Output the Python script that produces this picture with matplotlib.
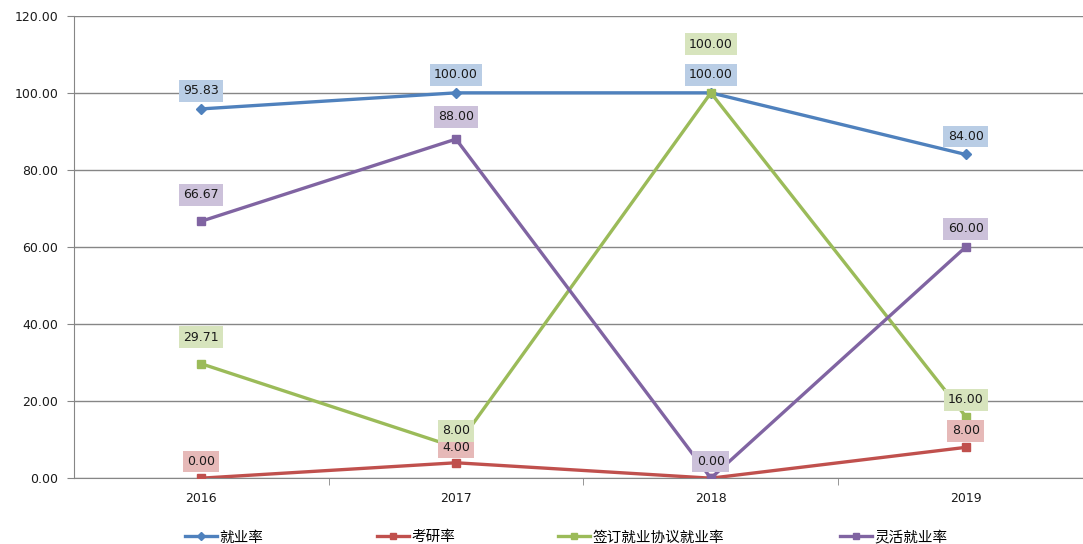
import matplotlib
matplotlib.use("Agg")
import matplotlib.pyplot as plt
from matplotlib.ticker import FormatStrFormatter

plt.rcParams['font.family'] = ['DejaVu Sans', 'Noto Sans CJK SC']

years = ["2016", "2017", "2018", "2019"]
jiuye = [95.83, 100.00, 100.00, 84.00]
kaoyan = [0.00, 4.00, 0.00, 8.00]
qianding = [29.71, 8.00, 100.00, 16.00]
linghuo = [66.67, 88.00, 0.00, 60.00]
names = ["就业率", "考研率", "签订就业协议就业率", "灵活就业率"]

# style per series: line colour, label box colour, marker, marker size, label offsets (pt)
styles = [
    ("#4F81BD", "#B9CDE5", "D", 5.5, [13, 13, 13, 13]),
    ("#C0504D", "#E6B9B8", "s", 5.5, [12, 11, 12, 12]),
    ("#9BBB59", "#D7E4BD", "s", 5.5, [19, 12, 35, 12]),
    ("#8064A2", "#CCC1DA", "s", 5.5, [19, 16, 12, 13]),
]
series = [jiuye, kaoyan, qianding, linghuo]

fig = plt.figure(figsize=(10.83, 5.44), dpi=100)
ax = fig.add_axes([0.068, 0.121, 0.932, 0.850])

x = list(range(len(years)))
handles = []
for vals, name, (col, bg, mk, ms, offs) in zip(series, names, styles):
    h, = ax.plot(x, vals, color=col, linewidth=2.4, marker=mk, markersize=ms,
                 markeredgecolor=col, label=name, zorder=3)
    handles.append(h)
    for xi, v, off in zip(x, vals, offs):
        ax.annotate(f"{v:.2f}", (xi, v), xytext=(0, off), textcoords="offset points",
                    ha="center", va="center", fontsize=9, color="#1a1a1a", zorder=5,
                    bbox=dict(boxstyle="square,pad=0.35", fc=bg, ec="none"))

ax.set_ylim(0, 120)
ax.set_yticks(range(0, 121, 20))
ax.yaxis.set_major_formatter(FormatStrFormatter("%.2f"))
ax.set_xlim(-0.5, 3.46)
ax.set_xticks(x)
ax.set_xticklabels(years)
ax.set_xticks([0.5, 1.5, 2.5], minor=True)
ax.tick_params(axis="x", which="major", length=0, labelsize=9, pad=10, colors="#1a1a1a")
ax.tick_params(axis="x", which="minor", length=5, color="#868686", direction="out")
ax.tick_params(axis="y", length=5, labelsize=9, pad=6, colors="#868686", labelcolor="#1a1a1a")
ax.grid(axis="y", color="#868686", linewidth=1)
ax.set_axisbelow(True)
for s in ["top", "right"]:
    ax.spines[s].set_visible(False)
ax.spines["left"].set_color("#868686")
ax.spines["bottom"].set_color("#868686")

legend_x = [0.171, 0.348, 0.515, 0.776]
for h, lx in zip(handles, legend_x):
    fig.legend([h], [h.get_label()], loc="center left", bbox_to_anchor=(lx, 0.013),
               frameon=False, fontsize=10.5, handlelength=2.2, handletextpad=0.15,
               markerscale=0.8, borderaxespad=0, borderpad=0)

fig.savefig("out.png", dpi=100)
